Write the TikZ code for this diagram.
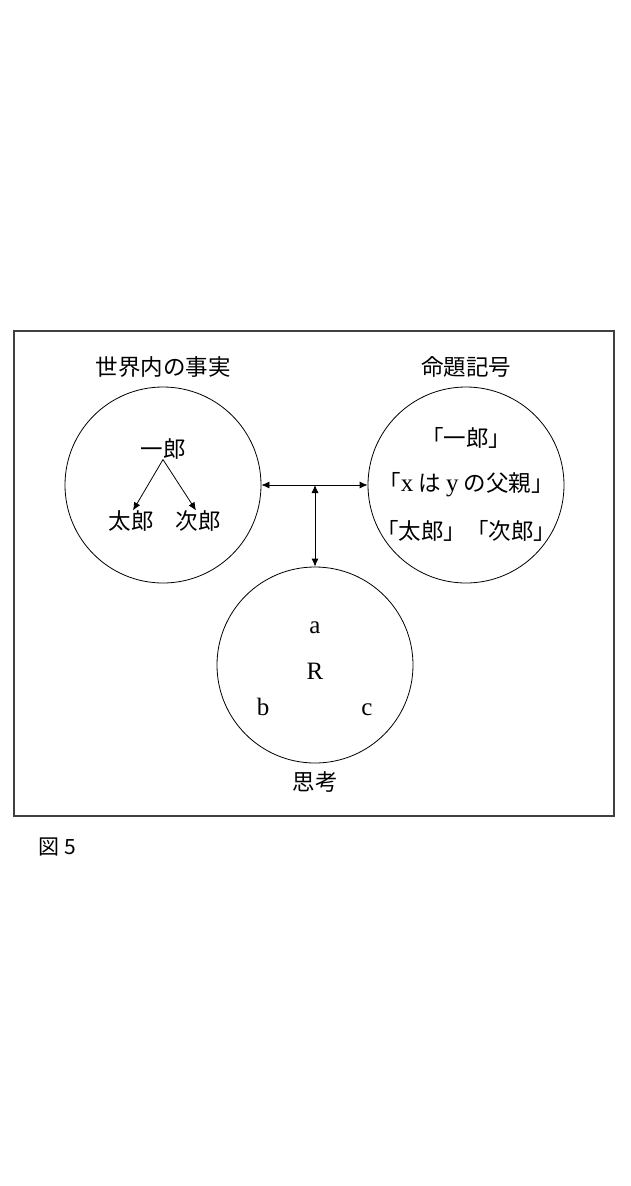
\documentclass[tikz,border=0pt]{standalone}
\usepackage{fontspec}
\setmainfont{Liberation Serif}
\newfontfamily\jp{Noto Sans CJK JP}
\usetikzlibrary{arrows.meta}
\begin{document}
\begin{tikzpicture}[x=1pt,y=-1pt,
  circ/.style={draw,circle,minimum size=196pt,inner sep=0pt,line width=0.8pt},
  lbl/.style={inner sep=0pt,font=\jp\fontsize{22.5}{22.5}\selectfont},
  lat/.style={inner sep=0pt,anchor=base,font=\fontsize{25}{25}\selectfont},
  arr/.style={line width=0.8pt,-{Latex[length=8pt,width=7pt]}},
  darr/.style={line width=0.8pt,{Latex[length=8pt,width=7pt]}-{Latex[length=8pt,width=7pt]}}]
\useasboundingbox (0,0) rectangle (630,1186);
\draw[line width=1.2pt,draw=black!75] (14,331) rectangle (614,816);
\node[circ] (L) at (163,485) {};
\node[circ] (Rt) at (466,485) {};
\node[circ] (B) at (315,665) {};
\node[lbl] (tL) at (163,367) {世界内の事実};
\node[lbl] (tR) at (466,367) {命題記号};
\node[lbl] (tB) at (315,782) {思考};
\node[lbl] (ichi) at (163,449) {一郎};
\node[lbl] (taro) at (131,521) {太郎};
\node[lbl] (jiro) at (198,521) {次郎};
\draw[arr] (ichi.south) -- ([xshift=2pt]taro.north);
\draw[arr] (ichi.south) -- ([xshift=-2pt]jiro.north);
\node[lbl] (p1) at (466,438) {「一郎」};
\node[lbl] (p2) at (466,485) {「{\fontspec{Liberation Serif}\fontsize{25}{25}\selectfont x}\ は\ {\fontspec{Liberation Serif}\fontsize{25}{25}\selectfont y}\ の父親」};
\node[lbl] (p3) at (466,531) {「太郎」「次郎」};
\node[lat] (a) at (315,633) {a};
\node[lat] (R) at (315,679) {R};
\node[lat] (b) at (263,715) {b};
\node[lat] (c) at (367,715) {c};
\coordinate (J) at (315,485);
\draw[darr] (L.east) -- (Rt.west);
\draw[darr] (J) -- (B.north);
\node[inner sep=0pt,font=\jp\fontsize{21}{21}\selectfont] (fig) at (57,847) {図 5};
\end{tikzpicture}
\end{document}
